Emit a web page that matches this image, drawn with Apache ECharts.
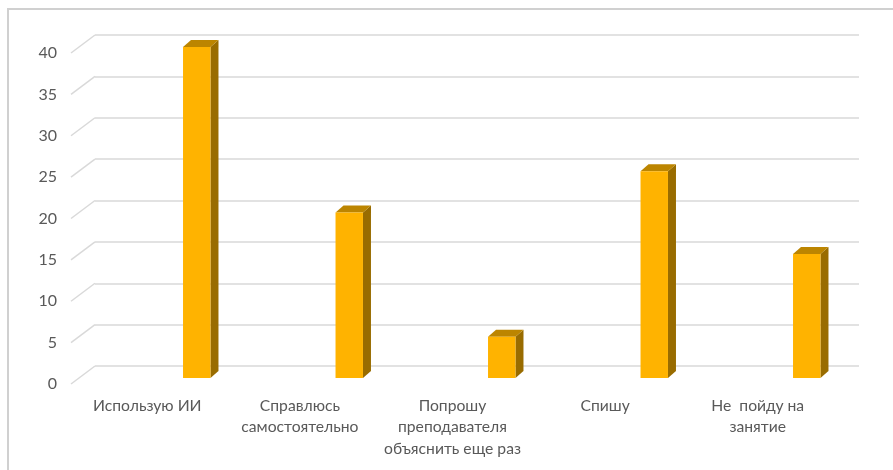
<!DOCTYPE html>
<html><head><meta charset="utf-8">
<style>html,body{margin:0;padding:0;background:#fff}#c{width:893px;height:470px}</style>
<script src="https://cdn.jsdelivr.net/npm/echarts@6/dist/echarts.min.js"></script>
</head><body><div id="c"></div>
<script>
const categories = ['Использую ИИ','Справлюсь\nсамостоятельно','Попрошу\nпреподавателя\nобъяснить еще раз','Спишу','Не  пойду на\nзанятие'];
const values = [40,20,5,25,15];
const ticks = [0,5,10,15,20,25,30,35,40];
const DX = 8, DY = 7;
const chart = echarts.init(document.getElementById('c'), null, {renderer:'canvas'});
const txt = '#595959';
const hidden = {show:false};
chart.setOption({
  animation:false,
  backgroundColor:'#fff',
  grid:[
    {left:95,right:34,top:35,height:331},
    {left:71,width:763,top:53,height:331},
    {left:120.5,width:762.5,top:47,height:331}
  ],
  xAxis:[
    {gridIndex:0,type:'value',min:0,max:1,show:false},
    {gridIndex:1,type:'category',data:categories,axisLine:hidden,axisTick:hidden,
     axisLabel:{color:txt,fontFamily:'Lato',fontSize:15.7,lineHeight:21.5,margin:11,interval:0}},
    {gridIndex:2,type:'category',data:categories,show:false}
  ],
  yAxis:[
    {gridIndex:0,type:'value',min:0,max:40,interval:5,axisLine:hidden,axisTick:hidden,axisLabel:hidden,
     splitLine:{lineStyle:{color:'#D9D9D9',width:1.5}}},
    {gridIndex:1,type:'value',min:0,max:40,interval:5,axisLine:hidden,axisTick:hidden,splitLine:hidden,
     axisLabel:{color:txt,fontFamily:'Lato',fontSize:16,margin:14}},
    {gridIndex:2,type:'value',min:0,max:40,show:false}
  ],
  graphic:[{type:'rect',silent:true,z:-1,shape:{x:8,y:9,width:900,height:480},style:{fill:null,stroke:'#D0D0D0',lineWidth:2}}],
  series:[
    {type:'custom',xAxisIndex:0,yAxisIndex:0,silent:true,data:ticks,
     renderItem(p,api){
       const a=api.coord([0,api.value(0)]);
       return {type:'line',shape:{x1:a[0],y1:a[1],x2:a[0]-24,y2:a[1]+18},style:{stroke:'#D9D9D9',lineWidth:1.5,fill:null}};
     },encode:{y:0}},
    {type:'custom',xAxisIndex:2,yAxisIndex:2,silent:true,data:values,
     renderItem(p,api){
       const i=p.dataIndex,t=api.coord([i,api.value(0)]),b=api.coord([i,0]);
       const w=api.size([1,0])[0]*0.18,l=t[0]-w/2,r=t[0]+w/2;
       return {type:'group',children:[
         {type:'polygon',shape:{points:[[r,t[1]],[r+DX,t[1]-DY],[r+DX,b[1]-DY],[r,b[1]]]},style:{fill:'#996C00'}},
         {type:'polygon',shape:{points:[[l,t[1]],[l+DX,t[1]-DY],[r+DX,t[1]-DY],[r,t[1]]]},style:{fill:'#BC8500'}},
         {type:'rect',shape:{x:l,y:t[1],width:r-l,height:b[1]-t[1]},style:{fill:'#FFB300'}}
       ]};
     },encode:{y:0}}
  ]
});
</script></body></html>
